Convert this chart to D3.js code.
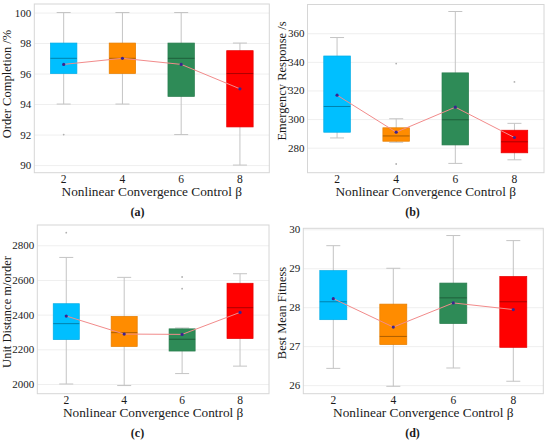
<!DOCTYPE html>
<html>
<head>
<meta charset="utf-8">
<script src="https://cdn.jsdelivr.net/npm/d3@7"></script>
<style>
  body { margin: 0; background: #fff; }
  svg { display: block; }
  svg text { font-family: "Liberation Serif", "Times New Roman", Tinos, "DejaVu Serif", serif; }
</style>
</head>
<body>
<div id="chart"></div>
<script>
// >-----------------< Data >-------------------<
const betas = ["2", "4", "6", "8"];

// box stats per beta: [lower whisker, q1, median, q3, upper whisker]
const completionBox = [[94, 96, 97, 98, 100], [94, 96, 97, 98, 100], [92, 94.5, 97, 98, 100], [90, 92.5, 96, 97.5, 98]];
const completionMean = [96.6, 97, 96.6, 95];
const completionOut = [[92], [], [], []];
const completionTicks = [90, 92, 94, 96, 98, 100];

const responseBox = [[286.8, 290.8, 308.8, 344.1, 357], [283.8, 284.5, 288.2, 293.9, 300.2], [269, 281.9, 299.5, 332.3, 375.2], [271.5, 276.4, 284.1, 292.2, 297]];
const responseMean = [316.7, 290.8, 308.3, 287.1];
const responseOut = [[], [338.8, 268.6], [], [326]];
const responseTicks = [280, 300, 320, 340, 360];

const distanceBox = [[2000, 2256, 2348, 2463, 2730], [1991, 2216, 2296, 2390, 2615], [2060, 2190, 2258, 2318, 2323], [2103, 2262, 2440, 2581, 2636]];
const distanceMean = [2392, 2288, 2286, 2413];
const distanceOut = [[2873], [], [2550, 2617], []];
const distanceTicks = [2000, 2200, 2400, 2600, 2800];

const fitnessBox = [[26.43, 27.68, 28.14, 28.94, 29.58], [25.97, 27.04, 27.25, 28.08, 29.0], [26.44, 27.58, 28.24, 28.62, 29.84], [26.1, 26.97, 28.14, 28.79, 29.71]];
const fitnessMean = [28.22, 27.49, 28.11, 27.94];
const fitnessOut = [[], [], [], []];
const fitnessTicks = [26, 27, 28, 29, 30];

// >-----------------< Config >-------------------<
const config = {
  width: 550,
  height: 444,
  font: "'Liberation Serif', 'Times New Roman', Tinos, 'DejaVu Serif', serif",
  boxColors: ["#00bfff", "#ff8c00", "#2e8b57", "#ff0000"],
  whisker: "#c4c4c4",
  frame: "#d6d6d6",
  grid: "#efefef",
  meanLine: "#f28b8b",
  meanDot: "#3a2490",
  text: "#1a1a1a"
};

const panels = [
  { box: completionBox, mean: completionMean, out: completionOut, ticks: completionTicks,
    domain: [89.5, 100.56], frame: [34.3, 4, 269.3, 172.7],
    yTitle: "Order Completion /%", yTitleX: 11, yTitleY: 84, cx: 137.5, caption: "(a)" },
  { box: responseBox, mean: responseMean, out: responseOut, ticks: responseTicks,
    domain: [262.5, 380.1], frame: [307.5, 4.5, 544, 172.7],
    yTitle: "Emergency Response /s", yTitleX: 286, yTitleY: 81, cx: 412.5, caption: "(b)" },
  { box: distanceBox, mean: distanceMean, out: distanceOut, ticks: distanceTicks,
    domain: [1944, 2917], frame: [37.3, 225, 269, 393.7],
    yTitle: "Unit Distance m/order", yTitleX: 11, yTitleY: 312, cx: 137.5, caption: "(c)" },
  { box: fitnessBox, mean: fitnessMean, out: fitnessOut, ticks: fitnessTicks,
    domain: [25.78, 30.026], frame: [303.3, 228.3, 543.3, 393.7],
    yTitle: "Best Mean Fitness", yTitleX: 286, yTitleY: 313, cx: 412.5, caption: "(d)" }
];

// >-----------------< Box Panel >-------------------<
function drawPanel(svg, p) {
  const [left, top, right, bottom] = p.frame;
  const g = svg.append("g").attr("font-family", config.font);

  const x = d3.scaleBand().domain(betas).range([left, right]).padding(0);
  const y = d3.scaleLinear().domain(p.domain).range([bottom, top]);
  const cx = b => x(b) + x.bandwidth() / 2;
  const boxW = x.bandwidth() * 0.45;
  const capW = 14;

  // Grid + y labels
  const yAxis = g.append("g")
    .attr("transform", `translate(${left},0)`)
    .call(d3.axisLeft(y).tickValues(p.ticks).tickFormat(d3.format("~g"))
      .tickSize(-(right - left)).tickPadding(3));
  yAxis.attr("font-family", config.font);
  yAxis.select(".domain").remove();
  yAxis.selectAll("line").attr("stroke", config.grid);
  yAxis.selectAll("text")
    .attr("font-size", 11)
    .attr("fill", config.text);

  // x labels
  const xAxis = g.append("g")
    .attr("transform", `translate(0,${bottom})`)
    .call(d3.axisBottom(x).tickSize(0).tickPadding(2));
  xAxis.attr("font-family", config.font);
  xAxis.select(".domain").remove();
  xAxis.selectAll("text")
    .attr("font-size", 11.5)
    .attr("fill", config.text);

  // Frame
  g.append("rect")
    .attr("x", left).attr("y", top)
    .attr("width", right - left).attr("height", bottom - top)
    .attr("fill", "none")
    .attr("stroke", config.frame)
    .attr("stroke-width", 1);

  const rows = betas.map((b, i) => ({ beta: b, s: p.box[i], color: config.boxColors[i] }));

  // Whiskers
  g.selectAll(".whisker")
    .data(rows).enter().append("line")
    .attr("x1", d => cx(d.beta)).attr("x2", d => cx(d.beta))
    .attr("y1", d => y(d.s[0])).attr("y2", d => y(d.s[4]))
    .attr("stroke", config.whisker).attr("stroke-width", 1);

  [0, 4].forEach(k => {
    g.selectAll(".cap" + k)
      .data(rows).enter().append("line")
      .attr("x1", d => cx(d.beta) - capW / 2).attr("x2", d => cx(d.beta) + capW / 2)
      .attr("y1", d => y(d.s[k])).attr("y2", d => y(d.s[k]))
      .attr("stroke", config.whisker).attr("stroke-width", 1);
  });

  // Boxes
  g.selectAll(".box")
    .data(rows).enter().append("rect")
    .attr("x", d => cx(d.beta) - boxW / 2)
    .attr("y", d => y(d.s[3]))
    .attr("width", boxW)
    .attr("height", d => y(d.s[1]) - y(d.s[3]))
    .attr("fill", d => d.color)
    .attr("stroke", d => d3.color(d.color).darker(0.3))
    .attr("stroke-width", 0.7);

  // Medians
  g.selectAll(".median")
    .data(rows).enter().append("line")
    .attr("x1", d => cx(d.beta) - boxW / 2).attr("x2", d => cx(d.beta) + boxW / 2)
    .attr("y1", d => y(d.s[2])).attr("y2", d => y(d.s[2]))
    .attr("stroke", d => d3.color(d.color).darker(1.1))
    .attr("stroke-width", 1);

  // Outliers
  const outliers = betas.flatMap((b, i) => p.out[i].map(v => ({ beta: b, v })));
  g.selectAll(".outlier")
    .data(outliers).enter().append("circle")
    .attr("cx", d => cx(d.beta)).attr("cy", d => y(d.v))
    .attr("r", 0.9)
    .attr("fill", "#b0b0b0");

  // Mean line + dots
  const line = d3.line().x((d, i) => cx(betas[i])).y(d => y(d));
  g.append("path")
    .datum(p.mean)
    .attr("d", line)
    .attr("fill", "none")
    .attr("stroke", config.meanLine)
    .attr("stroke-width", 1);

  g.selectAll(".mean")
    .data(p.mean).enter().append("circle")
    .attr("cx", (d, i) => cx(betas[i])).attr("cy", d => y(d))
    .attr("r", 1.6)
    .attr("fill", config.meanDot);

  // Titles
  g.append("text")
    .attr("transform", `translate(${p.yTitleX},${p.yTitleY}) rotate(-90)`)
    .attr("text-anchor", "middle")
    .attr("font-size", 12.5)
    .attr("fill", config.text)
    .text(p.yTitle);

  g.append("text")
    .attr("x", (left + right) / 2)
    .attr("y", bottom + 23.5)
    .attr("text-anchor", "middle")
    .attr("font-size", 13.3)
    .attr("fill", config.text)
    .text("Nonlinear Convergence Control β");

  g.append("text")
    .attr("x", p.cx)
    .attr("y", bottom + 43.5)
    .attr("text-anchor", "middle")
    .attr("font-size", 12)
    .attr("font-weight", "bold")
    .attr("fill", config.text)
    .text(p.caption);
}

function initializeChart() {
  const svg = d3.select("#chart")
    .append("svg")
    .attr("width", config.width)
    .attr("height", config.height);

  svg.append("rect")
    .attr("width", config.width).attr("height", config.height)
    .attr("fill", "#fff");

  panels.forEach(p => drawPanel(svg, p));
}

document.addEventListener("DOMContentLoaded", initializeChart);
</script>
</body>
</html>
